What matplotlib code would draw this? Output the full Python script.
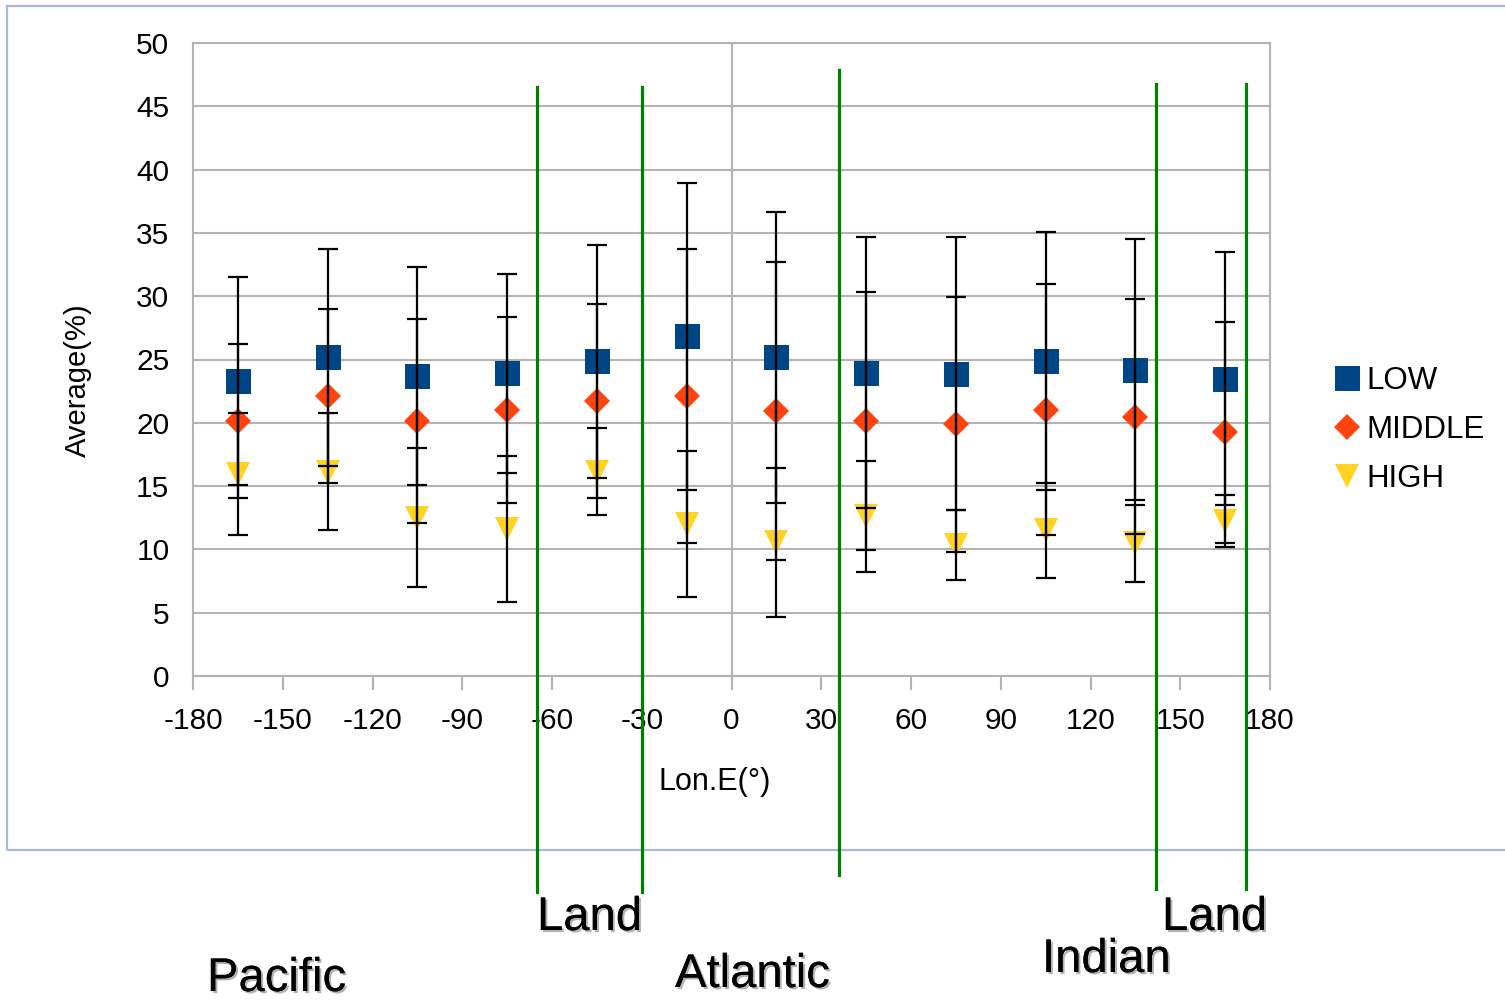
import matplotlib
matplotlib.use('Agg')
import matplotlib.pyplot as plt
import matplotlib.patheffects as pe
from matplotlib.patches import Rectangle
from matplotlib.transforms import blended_transform_factory

plt.rcParams['font.family'] = ['Liberation Sans', 'DejaVu Sans']
plt.rcParams['axes.unicode_minus'] = False

# longitude of each bin centre
lon = [-165, -135, -105, -75, -45, -15, 15, 45, 75, 105, 135, 165]

low = [23.3, 25.16, 23.7, 23.9, 24.86, 26.82, 25.16, 23.97, 23.87, 24.86, 24.2, 23.48]
low_err = [8.24, 8.57, 8.64, 7.84, 9.2, 12.15, 11.47, 10.68, 10.78, 10.19, 10.3, 9.99]

middle = [20.15, 22.11, 20.15, 21.03, 21.71, 22.12, 20.96, 20.16, 19.87, 21.04, 20.47, 19.26]
middle_err = [6.07, 6.86, 8.05, 7.36, 7.65, 11.59, 11.77, 10.2, 10.1, 9.9, 9.28, 8.73]

high = [15.95, 16.14, 12.5, 11.63, 16.14, 12.02, 10.55, 12.6, 10.35, 11.5, 10.47, 12.24]
high_err = [4.8, 4.61, 5.49, 5.78, 3.45, 5.76, 5.87, 4.41, 2.74, 3.74, 3.02, 2.03]

# boundaries between ocean basins and land (deg E)
bounds = [-65, -30, 36, 142, 172]
bound_top = [0.913, 0.913, 0.930, 0.916, 0.916]
bound_bot = [0.109, 0.109, 0.126, 0.112, 0.112]

regions = ['Land', 'Pacific', 'Atlantic', 'Indian', 'Land']
region_xy = [(537, 930), (207, 991), (675, 987), (1042, 972), (1162, 930)]

grid_c = '#b3b3b3'

fig = plt.figure(figsize=(15.05, 10.01), dpi=100)
ax = fig.add_axes([193/1505, 1 - 676/1001, 1077/1505, 633/1001])

series = [
    ('LOW', low, low_err, 's', '#004586', 18),
    ('MIDDLE', middle, middle_err, 'D', '#ff420e', 13.5),
    ('HIGH', high, high_err, 'v', '#ffd320', 17),
]
for name, vals, errs, mk, col, ms in series:
    ax.plot(lon, vals, linestyle='none', marker=mk, color=col, markersize=ms,
            markeredgewidth=0, label=name, zorder=3)
    ax.errorbar(lon, vals, yerr=errs, fmt='none', ecolor='black', elinewidth=1.6,
                capsize=7, capthick=1.6, zorder=4)

ax.set_xlim(-180, 180)
ax.set_ylim(0, 50)
ax.set_xticks(range(-180, 181, 30))
ax.set_yticks(range(0, 51, 5))
ax.yaxis.grid(True, color=grid_c, lw=1.5)
ax.axvline(0, color=grid_c, lw=1.5, zorder=1)
ax.set_axisbelow(True)
for s in ax.spines.values():
    s.set_color(grid_c)
    s.set_linewidth(1.5)
ax.tick_params(axis='x', length=10, width=1.5, color=grid_c, pad=12, labelsize=21.5)
ax.tick_params(axis='y', length=0, pad=17, labelsize=21.5)

ax.set_xlabel('Lon.E(°)', fontsize=22, va='center')
ax.xaxis.set_label_coords(0.4847, -0.1675)
ax.set_ylabel('Average(%)', fontsize=21, va='center', ha='center')
ax.yaxis.set_label_coords(-0.1068, 0.4676)

fig.legend(loc='center left', bbox_to_anchor=(1335/1505, 1 - 430/1001), frameon=False,
           fontsize=22.5, handlelength=0.75, handletextpad=0.25, labelspacing=0.62,
           borderpad=0, borderaxespad=0)

# green divider lines, x in data coords, y in figure coords
trans = blended_transform_factory(ax.transData, fig.transFigure)
for b, t, bt in zip(bounds, bound_top, bound_bot):
    ax.plot([b, b], [bt, t], color='#008000', lw=2.3, transform=trans,
            clip_on=False, zorder=6)

# chart frame
fig.add_artist(Rectangle((7/1505, 1 - 850/1001), 1.1, (850 - 6)/1001,
                         transform=fig.transFigure, fill=False,
                         edgecolor='#a9b9d3', lw=1.6, zorder=0))

shadow = [pe.withSimplePatchShadow(offset=(1.5, -1.5), shadow_rgbFace='gray', alpha=0.6),
          pe.Normal()]
for txt, (px, py) in zip(regions, region_xy):
    fig.text(px/1505, 1 - py/1001, txt, fontsize=34, ha='left', va='baseline',
             path_effects=shadow)

fig.savefig('out.png', dpi=100)
